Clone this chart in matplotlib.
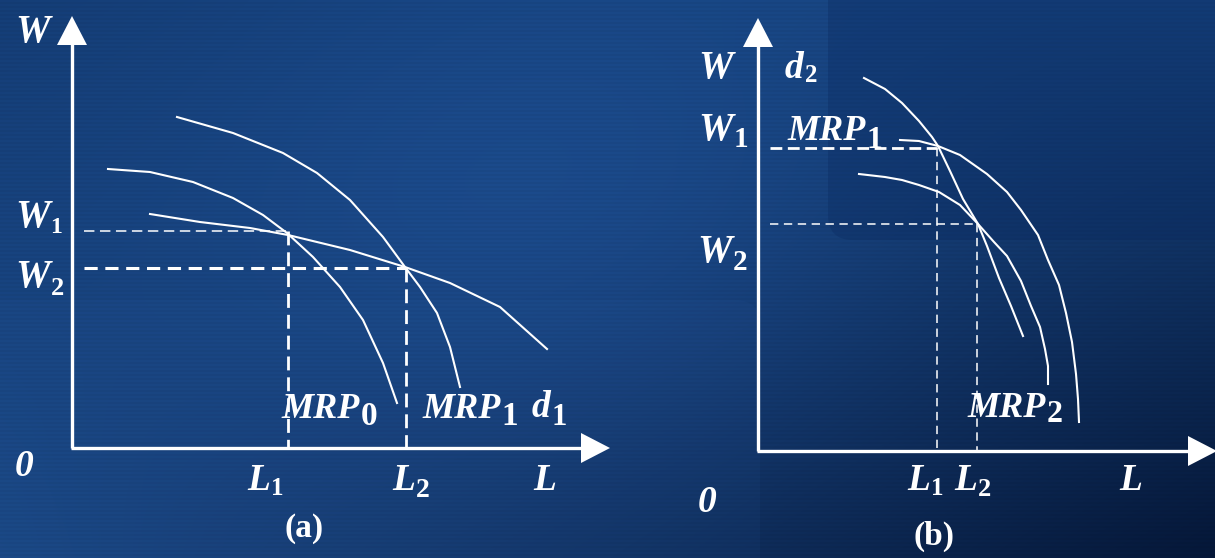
import numpy as np
import matplotlib
matplotlib.use('Agg')
import matplotlib.pyplot as plt
from matplotlib.patches import FancyBboxPatch

plt.rcParams['lines.scale_dashes'] = False

W, H = 1215, 558

# panel (a) curves, pixel coords (x, y) with y downward
a_d1_x = [150, 200, 250, 288, 350, 405, 450, 500, 547]
a_d1_y = [214, 222, 228, 235, 250, 267, 283, 307, 349]
a_mrp0_x = [108, 150, 193, 233, 263, 287, 313, 340, 363, 383, 397]
a_mrp0_y = [169, 172, 182, 198, 215, 233, 257, 287, 320, 363, 403]
a_mrp1_x = [177, 233, 283, 317, 350, 383, 405, 420, 437, 450, 460]
a_mrp1_y = [117, 133, 153, 173, 200, 237, 267, 287, 313, 347, 387]

# panel (b) curves
b_d2_x = [864, 885, 902, 919, 932, 938, 950, 963, 978, 987, 999, 1011, 1023]
b_d2_y = [78, 89, 103, 121, 137, 146, 171, 199, 224, 246, 278, 306, 336]
b_mrp1_x = [900, 919, 938, 960, 987, 1007, 1021, 1038, 1048, 1059, 1066, 1072, 1076, 1078, 1079]
b_mrp1_y = [140, 141, 146, 155, 174, 192, 210, 235, 260, 285, 313, 342, 374, 399, 422]
b_mrp2_x = [859, 885, 902, 919, 939, 960, 978, 994, 1007, 1021, 1031, 1040, 1045, 1048, 1048]
b_mrp2_y = [174, 177, 180, 185, 192, 205, 224, 242, 256, 281, 306, 327, 349, 366, 384]

# axes origins and arrow tips
a_origin = (72, 448)
a_ytip, a_xtip = 16, 610
b_origin = (758, 451)
b_ytip, b_xtip = 18, 1217

# equilibrium points (L, W)
a_w1 = (288, 231)
a_w2 = (406, 268)
b_w1 = (937, 148)
b_w2 = (977, 224)

fig = plt.figure(figsize=(W / 100, H / 100), dpi=100)
ax = fig.add_axes([0, 0, 1, 1])
ax.set_xlim(0, W)
ax.set_ylim(H, 0)
ax.axis('off')
renderer = fig.canvas.get_renderer()

# background gradient
yy, xx = np.mgrid[0:H, 0:W]
u = xx / W
v = yy / H
tl = np.array([0x14, 0x3d, 0x76]) / 255
tr = np.array([0x17, 0x44, 0x80]) / 255
bl = np.array([0x1a, 0x47, 0x84]) / 255
br = np.array([0x05, 0x17, 0x38]) / 255
img = ((1 - u)[..., None] * (1 - v)[..., None] * tl + u[..., None] * (1 - v)[..., None] * tr
       + (1 - u)[..., None] * v[..., None] * bl + u[..., None] * v[..., None] * br)
glow = np.exp(-(((xx - 560) / 380.0) ** 2 + ((yy - 230) / 260.0) ** 2))
img = img + glow[..., None] * np.array([0.03, 0.06, 0.10])
stripes = np.where((yy // 2) % 2 == 0, 1.0, 0.96)
img = np.clip(img * stripes[..., None], 0, 1)
ax.imshow(img, extent=[0, W, H, 0], aspect='auto', zorder=0)

# subtle rounded panels
ax.add_patch(FancyBboxPatch((828, -60), 420, 300, boxstyle='round,pad=0,rounding_size=25',
                            fc='#0a2a60', ec='none', alpha=0.35, zorder=1))
ax.add_patch(FancyBboxPatch((-40, 300), 800, 300, boxstyle='round,pad=0,rounding_size=25',
                            fc='#2a5aa0', ec='none', alpha=0.10, zorder=1))

white = 'white'


def draw_axes(origin, ytip, xtip):
    x0, y0 = origin
    ax.plot([x0, x0], [y0, ytip + 26], color=white, lw=2.4, solid_capstyle='butt', zorder=3)
    ax.plot([x0 - 1, xtip - 26], [y0, y0], color=white, lw=2.4, solid_capstyle='butt', zorder=3)
    ax.fill([x0 - 15, x0 + 15, x0], [ytip + 29, ytip + 29, ytip], color=white, lw=0, zorder=3)
    ax.fill([xtip - 29, xtip - 29, xtip], [y0 - 15, y0 + 15, y0], color=white, lw=0, zorder=3)


def hguide(origin, pt, lw, dash):
    ax.plot([origin[0] + 12, pt[0]], [pt[1], pt[1]], color=white, lw=lw, dashes=dash, zorder=2)


def vguide(origin, pt, lw, dash):
    ax.plot([pt[0], pt[0]], [pt[1], origin[1]], color=white, lw=lw, dashes=dash, zorder=2)


thin = (1.1, (7.5, 4))
thick = (2.2, (9.5, 5.5))

draw_axes(a_origin, a_ytip, a_xtip)
draw_axes(b_origin, b_ytip, b_xtip)

hguide(a_origin, a_w1, *thin)
hguide(a_origin, a_w2, *thick)
vguide(a_origin, a_w1, 2.0, (10, 5))
vguide(a_origin, a_w2, 2.0, (10, 5))
hguide(b_origin, b_w1, 2.0, (8.5, 4))
hguide(b_origin, b_w2, 1.1, (6, 4))
vguide(b_origin, b_w1, 1.1, (6, 4))
vguide(b_origin, b_w2, 1.1, (6, 4))

for xs, ys in [(a_d1_x, a_d1_y), (a_mrp0_x, a_mrp0_y), (a_mrp1_x, a_mrp1_y),
               (b_d2_x, b_d2_y), (b_mrp1_x, b_mrp1_y), (b_mrp2_x, b_mrp2_y)]:
    ax.plot(xs, ys, color=white, lw=1.5, zorder=2, solid_joinstyle='round')


def label(x, y, main, size=27, sub=None, ssize=20, drop=6, gap=1):
    t = ax.text(x, y, main, color=white, fontsize=size, ha='left', va='baseline',
                family='Liberation Serif', style='italic', weight='bold', zorder=4)
    if sub is not None:
        bb = t.get_window_extent(renderer)
        ax.text(bb.x1 + gap, y + drop, sub, color=white, fontsize=ssize, ha='left',
                va='baseline', family='Liberation Serif', weight='bold', zorder=4)


# panel (a) labels
label(15, 42, 'W', 28)
label(15, 227, 'W', 28, '1', 17, 6)
label(15, 287, 'W', 28, '2', 19, 8)
label(15, 476, '0', 27)
label(247, 490, 'L', 27, '1', 18, 5)
label(392, 490, 'L', 27, '2', 20, 7)
label(533, 490, 'L', 27)
label(281, 418, 'MRP', 26, '0', 24, 7)
label(422, 418, 'MRP', 26, '1', 24, 7)
label(532, 417, 'd', 27, '1', 22, 8)
ax.text(304, 528, '(a)', color=white, fontsize=24, ha='center', va='center',
        family='Liberation Serif', weight='bold', zorder=4)

# panel (b) labels
label(698, 78, 'W', 28)
label(785, 78, 'd', 27, '2', 18, 4)
label(698, 140, 'W', 28, '1', 21, 7)
label(787, 140, 'MRP', 26, '1', 23, 8)
label(697, 262, 'W', 28, '2', 21, 8)
label(698, 512, '0', 27)
label(907, 490, 'L', 27, '1', 18, 5)
label(954, 490, 'L', 27, '2', 19, 6)
label(1119, 490, 'L', 27)
label(967, 417, 'MRP', 26, '2', 23, 5)
ax.text(934, 536, '(b)', color=white, fontsize=24, ha='center', va='center',
        family='Liberation Serif', weight='bold', zorder=4)

fig.savefig('out.png', dpi=100)
